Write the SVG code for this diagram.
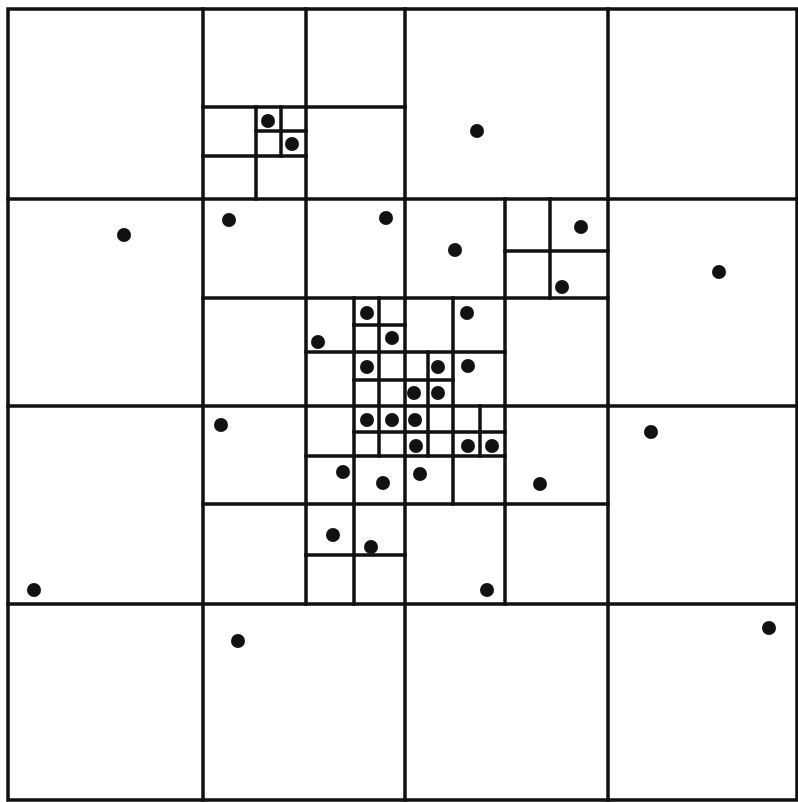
<svg xmlns="http://www.w3.org/2000/svg" width="798" height="802" viewBox="0 0 798 802">
<style>
.g line{stroke:#111;stroke-width:3.5;stroke-linecap:square}
.b{fill:none;stroke:#111;stroke-width:3.5}
.p circle{fill:#111}
</style>
<rect x="0" y="0" width="798" height="802" fill="#fff"/>
<g id="grid" class="g">
<rect class="b" x="8" y="9" width="789" height="791"/>
<line x1="203" y1="9" x2="203" y2="800"/>
<line x1="405" y1="9" x2="405" y2="800"/>
<line x1="608" y1="9" x2="608" y2="800"/>
<line x1="8" y1="199" x2="797" y2="199"/>
<line x1="8" y1="406" x2="797" y2="406"/>
<line x1="8" y1="604" x2="797" y2="604"/>
<line x1="306" y1="9" x2="306" y2="604"/>
<line x1="203" y1="107" x2="405" y2="107"/>
<line x1="203" y1="298" x2="608" y2="298"/>
<line x1="505" y1="199" x2="505" y2="604"/>
<line x1="203" y1="504" x2="608" y2="504"/>
<line x1="256" y1="107" x2="256" y2="199"/>
<line x1="203" y1="156" x2="306" y2="156"/>
<line x1="354" y1="298" x2="354" y2="604"/>
<line x1="306" y1="352" x2="505" y2="352"/>
<line x1="550" y1="199" x2="550" y2="298"/>
<line x1="505" y1="251" x2="608" y2="251"/>
<line x1="453" y1="298" x2="453" y2="504"/>
<line x1="306" y1="456" x2="505" y2="456"/>
<line x1="306" y1="555" x2="405" y2="555"/>
<line x1="281" y1="107" x2="281" y2="156"/>
<line x1="256" y1="131" x2="306" y2="131"/>
<line x1="379" y1="298" x2="379" y2="456"/>
<line x1="354" y1="325" x2="405" y2="325"/>
<line x1="354" y1="380" x2="453" y2="380"/>
<line x1="428" y1="352" x2="428" y2="456"/>
<line x1="354" y1="432" x2="505" y2="432"/>
<line x1="480" y1="406" x2="480" y2="456"/>
</g>
<g id="points" class="p">
<circle cx="268" cy="121" r="7"/>
<circle cx="292" cy="144" r="7"/>
<circle cx="477" cy="131" r="7"/>
<circle cx="124" cy="235" r="7"/>
<circle cx="229" cy="220" r="7"/>
<circle cx="386" cy="218" r="7"/>
<circle cx="455" cy="250" r="7"/>
<circle cx="581" cy="227" r="7"/>
<circle cx="562" cy="287" r="7"/>
<circle cx="719" cy="272" r="7"/>
<circle cx="318" cy="342" r="7"/>
<circle cx="367" cy="313" r="7"/>
<circle cx="392" cy="338" r="7"/>
<circle cx="367" cy="367" r="7"/>
<circle cx="467" cy="313" r="7"/>
<circle cx="438" cy="367" r="7"/>
<circle cx="468" cy="366" r="7"/>
<circle cx="414" cy="393" r="7"/>
<circle cx="438" cy="393" r="7"/>
<circle cx="367" cy="420" r="7"/>
<circle cx="392" cy="420" r="7"/>
<circle cx="415" cy="420" r="7"/>
<circle cx="416" cy="446" r="7"/>
<circle cx="468" cy="446" r="7"/>
<circle cx="492" cy="446" r="7"/>
<circle cx="343" cy="472" r="7"/>
<circle cx="383" cy="483" r="7"/>
<circle cx="420" cy="474" r="7"/>
<circle cx="221" cy="425" r="7"/>
<circle cx="651" cy="432" r="7"/>
<circle cx="540" cy="484" r="7"/>
<circle cx="333" cy="535" r="7"/>
<circle cx="371" cy="547" r="7"/>
<circle cx="487" cy="590" r="7"/>
<circle cx="34" cy="590" r="7"/>
<circle cx="238" cy="641" r="7"/>
<circle cx="769" cy="628" r="7"/>
</g>
</svg>
